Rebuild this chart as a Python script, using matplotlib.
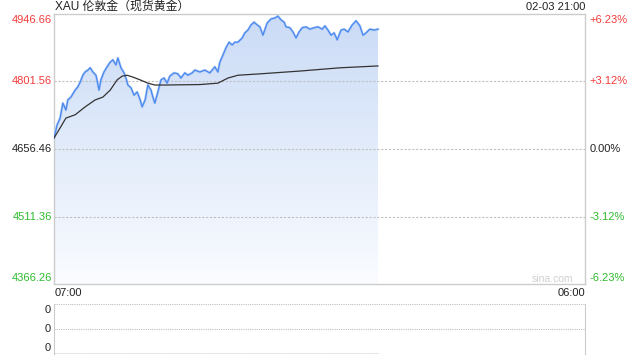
import matplotlib
matplotlib.use("Agg")
import matplotlib.pyplot as plt
import numpy as np
from matplotlib.patches import Polygon

plt.rcParams['font.family'] = ['Liberation Sans', 'Noto Sans CJK SC', 'DejaVu Sans']

# ---- data ----
title = "XAU 伦敦金（现货黄金）"
date_label = "02-03 21:00"
prev_close = 4656.46
price_ticks = [4366.26, 4511.36, 4656.46, 4801.56, 4946.66]
pct_labels = ["-6.23%", "-3.12%", "0.00%", "+3.12%", "+6.23%"]
x_labels = ["07:00", "06:00"]
session_minutes = 1380  # 07:00 -> 06:00 next day

# minutes after 07:00
price_minutes = [0, 8, 16, 23, 31, 36, 44, 55, 62, 68, 75, 81, 88, 94, 101, 109, 117, 122, 130, 138,
                 146, 153, 161, 166, 174, 182, 187, 192, 200, 208, 216, 224, 229, 237, 244, 252, 257, 262,
                 270, 278, 286, 294, 301, 312, 322, 330, 340, 348, 359, 366, 379, 392, 405, 418, 426, 431,
                 439, 447, 455, 463, 470, 478, 489, 496, 504, 512, 520, 528, 535, 543, 554, 564, 574, 582,
                 590, 598, 603, 613, 621, 629, 637, 645, 655, 665, 676, 686, 697, 704, 712, 720, 728, 736,
                 746, 754, 764, 775, 785, 795, 803, 811, 821, 832, 842]
prices = [4680, 4708, 4723, 4755, 4740, 4762, 4768, 4783, 4790, 4800, 4815, 4822, 4826, 4831, 4822, 4815,
          4783, 4805, 4822, 4833, 4843, 4848, 4837, 4852, 4831, 4820, 4809, 4794, 4788, 4772, 4779, 4762,
          4747, 4762, 4794, 4783, 4768, 4755, 4779, 4805, 4809, 4798, 4813, 4820, 4818, 4809, 4820, 4815,
          4820, 4826, 4822, 4826, 4820, 4833, 4822, 4843, 4858, 4874, 4886, 4880, 4886, 4886, 4895, 4906,
          4912, 4923, 4929, 4923, 4919, 4901, 4927, 4936, 4938, 4942, 4934, 4929, 4919, 4917, 4908, 4895,
          4908, 4917, 4919, 4914, 4917, 4919, 4914, 4921, 4912, 4901, 4906, 4891, 4912, 4914, 4908, 4923,
          4932, 4921, 4901, 4906, 4914, 4912, 4914]

avg_minutes = [0, 16, 31, 55, 81, 107, 127, 146, 164, 177, 190, 205, 224, 244, 262, 288, 379, 426, 452,
               478, 535, 639, 743, 842]
avg_prices = [4680, 4702, 4723, 4730, 4747, 4762, 4768, 4783, 4805, 4813, 4815, 4811, 4805, 4798, 4794,
              4794, 4795, 4798, 4809, 4815, 4818, 4824, 4831, 4835]

volume = [0] * len(price_minutes)
volume_labels = ["0", "0", "0"]

# ---- figure ----
W, H = 640, 360
fig = plt.figure(figsize=(6.4, 3.6), dpi=100)
fig.patch.set_facecolor('white')

def ax_rect(x0, y0, x1, y1):
    return [x0 / W, 1 - y1 / H, (x1 - x0) / W, (y1 - y0) / H]

red = '#f23b3b'
green = '#2dbb2d'
black = '#222222'
grid_c = '#c0c0c0'
frame_c = '#cccccc'

ax = fig.add_axes(ax_rect(54, 14, 585, 284))
ymin, ymax = price_ticks[0], price_ticks[-1]
ax.set_xlim(0, session_minutes)
ax.set_ylim(ymin, ymax)
ax.set_xticks([]); ax.set_yticks([])
for s in ax.spines.values():
    s.set_color(frame_c); s.set_linewidth(1)

# gradient fill under price line
grad = np.linspace(0, 1, 256).reshape(-1, 1)
top_c = np.array([202, 219, 246]) / 255
bot_c = np.array([250, 252, 255]) / 255
img = top_c * (1 - grad[..., None]) + bot_c * grad[..., None]
img = img.reshape(256, 1, 3)
im = ax.imshow(img, extent=[0, session_minutes, ymin, ymax], aspect='auto', origin='upper', zorder=1)
poly_xy = [(price_minutes[0], ymin)] + list(zip(price_minutes, prices)) + [(price_minutes[-1], ymin)]
clip = Polygon(poly_xy, closed=True, transform=ax.transData, facecolor='none', edgecolor='none')
ax.add_patch(clip)
im.set_clip_path(clip)

# grid lines
for v in price_ticks[1:-1]:
    ax.axhline(v, color=grid_c, lw=0.8, ls=(0, (2, 1.5)), zorder=2)

ax.plot(price_minutes, prices, color='#b3cdf6', lw=1.8, zorder=3, solid_joinstyle='round')
ax.plot(price_minutes, prices, color='#4a88ee', lw=0.9, zorder=4, solid_joinstyle='round')
ax.plot(avg_minutes, avg_prices, color='#333333', lw=0.9, zorder=5)

# left/right labels
fs = 8
for i, (v, pl) in enumerate(zip(price_ticks, pct_labels)):
    if v > prev_close + 1e-6:
        c = red
    elif v < prev_close - 1e-6:
        c = green
    else:
        c = black
    va = 'center'
    off = 0
    if i == len(price_ticks) - 1:
        va = 'top'; off = -1
    elif i == 0:
        va = 'bottom'; off = 1
    ax.annotate(f"{v:.2f}", xy=(0, v), xycoords=('axes fraction', 'data'),
                xytext=(-1.5, off), textcoords='offset points', ha='right', va=va,
                color=c, fontsize=fs)
    ax.annotate(pl, xy=(1, v), xycoords=('axes fraction', 'data'),
                xytext=(3.5, off), textcoords='offset points', ha='left', va=va,
                color=c, fontsize=fs)

fig.text(55 / W, 1 - 7 / H, title, ha='left', va='center', fontsize=8.6, color='#222222')
fig.text(585 / W, 1 - 7 / H, date_label, ha='right', va='center', fontsize=8, color='#222222')
fig.text(55 / W, 1 - 293 / H, x_labels[0], ha='left', va='center', fontsize=8, color='#222222')
fig.text(585 / W, 1 - 293 / H, x_labels[1], ha='right', va='center', fontsize=8, color='#222222')
fig.text(573 / W, 1 - 279 / H, "sina.com", ha='right', va='center', fontsize=7.5, color='#d0d0d0')

# volume panel
vax = fig.add_axes(ax_rect(54, 304, 585, 354))
vax.set_xlim(0, session_minutes)
vax.set_ylim(0, 1)
vax.set_xticks([]); vax.set_yticks([])
vax.spines['top'].set_visible(False)
vax.spines['bottom'].set_visible(False)
vax.spines['left'].set_color(frame_c)
vax.spines['right'].set_color(frame_c)
for yv in [0, 0.5, 1]:
    vax.axhline(yv, color=grid_c, lw=0.8, ls=(0, (1, 1)), zorder=1)
vax.plot(price_minutes, volume, color='#888888', lw=1.0, zorder=3)
for yv, lab, va, off in [(1, volume_labels[0], 'top', -1), (0.5, volume_labels[1], 'center', 0),
                         (0, volume_labels[2], 'bottom', 1)]:
    vax.annotate(lab, xy=(0, yv), xycoords=('axes fraction', 'data'), xytext=(-2, off),
                 textcoords='offset points', ha='right', va=va, fontsize=8, color='#222222')

fig.savefig("out.png", dpi=100, facecolor='white')
